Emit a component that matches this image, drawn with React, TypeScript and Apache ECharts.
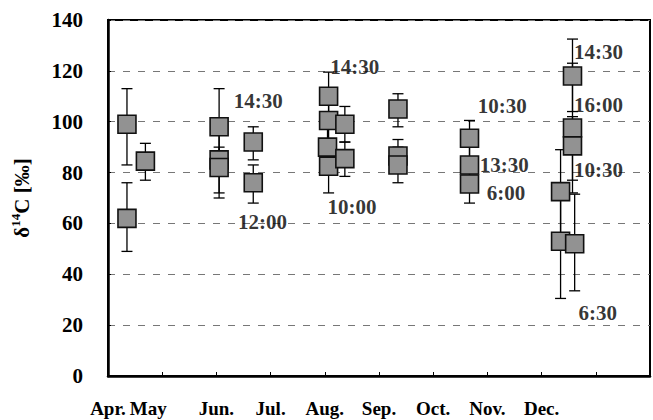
import React, { useEffect, useRef } from "react";
import * as echarts from "echarts";

// month axis: 0 = Apr. 1st, one unit per month
const monthLabels = ["Apr.", "May", "Jun.", "Jul.", "Aug.", "Sep.", "Oct.", "Nov.", "Dec.", "", ""];
const yTicks = [0, 20, 40, 60, 80, 100, 120, 140];

// measurements: position (months), δ14C value, error low / high
const pointX = [0.35, 0.35, 0.69, 2.05, 2.05, 2.05, 2.68, 2.68, 4.07, 4.07, 4.05, 4.07, 4.37, 4.37, 5.35, 5.35, 5.35, 6.67, 6.67, 6.67, 8.35, 8.35, 8.57, 8.57, 8.57, 8.61];
const pointY = [99, 62, 84.5, 98, 85, 82, 92, 76, 110, 100.5, 90, 82.5, 99, 85.5, 105, 86.5, 83, 93.5, 83, 75.5, 72.5, 53, 118, 97.5, 90.5, 52];
const errLow = [83, 49, 77, 86, 72, 70, 85, 68, 100, 90, 80, 72, 92, 78.5, 98, 80, 76, 86, 76, 68, 56, 30.5, 104, 72, 77, 33.5];
const errHigh = [113, 76, 91.5, 113, 95, 90, 98, 83, 119.5, 110, 100, 92, 106, 92, 111, 93, 90, 100.5, 90, 83, 89, 76, 132.5, 123, 102, 71.5];

// sampling-time annotations
const noteText = ["14:30", "12:00", "14:30", "10:00", "10:30", "13:30", "6:00", "14:30", "16:00", "10:30", "6:30"];
const noteX = [2.32, 2.4, 4.1, 4.05, 6.82, 6.86, 6.99, 8.6, 8.6, 8.6, 8.68];
const noteY = [108.1, 60.4, 121.6, 66.6, 106.2, 83.0, 72.1, 127.5, 106.6, 81.0, 24.8];

const FONT = "Liberation Serif";

export default function App() {
  const ref = useRef<HTMLDivElement>(null);
  useEffect(() => {
    if (!ref.current) return;
    const chart = echarts.init(ref.current, undefined, { renderer: "svg" });
    const errData = pointX.map((x, i) => [x, pointY[i], errLow[i], errHigh[i]]);
    const ptData = pointX.map((x, i) => [x, pointY[i]]);
    const noteData = noteX.map((x, i) => [x, noteY[i], noteText[i]]);
    chart.setOption({
      animation: false,
      backgroundColor: "#fff",
      textStyle: { fontFamily: FONT },
      grid: {
        left: 108,
        top: 20,
        width: 570,
        height: 356,
        show: true,
        borderColor: "#000",
        borderWidth: 2,
        backgroundColor: "transparent",
      },
      xAxis: {
        type: "value",
        min: 0,
        max: 10,
        interval: 1,
        axisLine: { show: true, onZero: false, lineStyle: { color: "#000", width: 2.5 } },
        axisTick: { show: true, inside: true, length: 4, lineStyle: { color: "#000", width: 1 } },
        splitLine: { show: false },
        axisLabel: {
          margin: 23,
          color: "#000",
          fontFamily: FONT,
          fontWeight: "bold",
          fontSize: 19,
          hideOverlap: false,
          formatter: (v: number) => {
            const t = monthLabels[Math.round(v)] || "";
            if (Math.round(v) === 1) return "{may|" + t + "}";
            return t;
          },
          rich: {
            may: {
              fontFamily: FONT,
              fontWeight: "bold",
              fontSize: 19,
              color: "#000",
              padding: [0, 28, 0, 0],
            },
          },
        },
      },
      yAxis: {
        type: "value",
        min: 0,
        max: 140,
        interval: 20,
        name: "{d|δ}{s|14}{d|C [‰]}",
        nameLocation: "middle",
        nameRotate: 90,
        nameGap: 74,
        nameTextStyle: {
          rich: {
            d: { fontFamily: FONT, fontWeight: "bold", fontSize: 21, color: "#000" },
            s: { fontFamily: FONT, fontWeight: "bold", fontSize: 13, color: "#000", padding: [0, 0, 12, 0] },
          },
        },
        axisLine: { show: true, lineStyle: { color: "#000", width: 2.5 } },
        axisTick: { show: true, inside: true, length: 3, lineStyle: { color: "#000" } },
        axisLabel: {
          margin: 25,
          color: "#000",
          fontFamily: FONT,
          fontWeight: "bold",
          fontSize: 21,
          formatter: (v: number) => (yTicks.indexOf(v) >= 0 ? String(v) : ""),
        },
        splitLine: {
          show: true,
          lineStyle: { color: "#777", width: 1, type: [7, 8] },
        },
      },
      series: [
        {
          type: "custom",
          data: errData,
          z: 2,
          clip: false,
          renderItem: (params: any, api: any) => {
            const x = api.value(0);
            const lo = api.coord([x, api.value(2)]);
            const hi = api.coord([x, api.value(3)]);
            const w = 5.5;
            const st = { stroke: "#000", lineWidth: 1.3 };
            return {
              type: "group",
              children: [
                { type: "line", shape: { x1: lo[0], y1: lo[1], x2: hi[0], y2: hi[1] }, style: st },
                { type: "line", shape: { x1: lo[0] - w, y1: lo[1], x2: lo[0] + w, y2: lo[1] }, style: st },
                { type: "line", shape: { x1: hi[0] - w, y1: hi[1], x2: hi[0] + w, y2: hi[1] }, style: st },
              ],
            };
          },
        },
        {
          type: "scatter",
          data: ptData,
          z: 3,
          symbol: "rect",
          symbolSize: 18,
          itemStyle: {
            color: "#929292",
            borderColor: "#111",
            borderWidth: 1.6,
            opacity: 1,
          },
        },
        {
          type: "scatter",
          data: noteData,
          z: 4,
          symbolSize: 0,
          silent: true,
          label: {
            show: true,
            position: "right",
            distance: 0,
            color: "#000",
            fontFamily: FONT,
            fontWeight: "bold",
            fontSize: 21,
            formatter: (p: any) => p.data[2],
          },
        },
      ],
    });
    return () => chart.dispose();
  }, []);
  return <div ref={ref} style={{ width: 653, height: 420, position: "absolute", left: 0, top: 0 }} />;
}
